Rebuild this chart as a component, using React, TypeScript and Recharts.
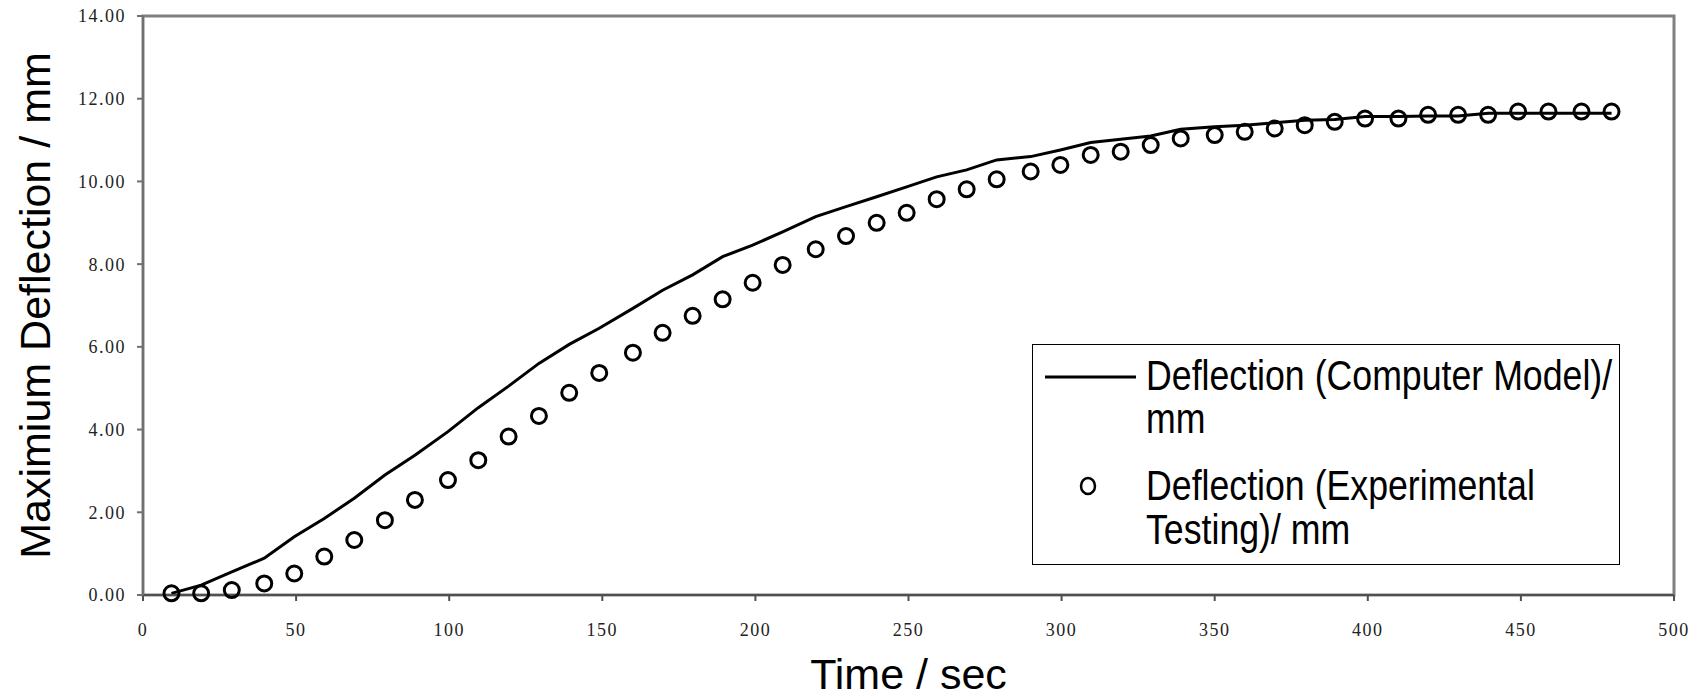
import {
  ComposedChart, Line, Scatter, XAxis, YAxis, ReferenceArea,
} from 'recharts';

// sample times (s)
const TIMES = [
  9.3, 19, 29, 39.6, 49.4, 59.2, 69, 79, 88.8, 99.6,
  109.5, 119.4, 129.3, 139.2, 149, 160, 169.7, 179.5, 189.3, 199.1,
  208.9, 219.7, 229.6, 239.6, 249.4, 259.2, 269, 278.8, 289.9, 299.6,
  309.5, 319.3, 329.1, 338.9, 350, 359.8, 369.6, 379.4, 389.2, 399.1,
  410, 419.7, 429.5, 439.3, 449.1, 459, 469.8, 479.6,
];

// Deflection (Computer Model) / mm
const MODEL = [
  0.04, 0.24, 0.56, 0.89, 1.41, 1.85, 2.34, 2.90, 3.38, 3.95,
  4.53, 5.05, 5.60, 6.06, 6.45, 6.93, 7.37, 7.74, 8.18, 8.46,
  8.78, 9.15, 9.39, 9.63, 9.87, 10.11, 10.28, 10.52, 10.60, 10.76,
  10.94, 11.02, 11.10, 11.26, 11.32, 11.36, 11.42, 11.48, 11.50, 11.57,
  11.57, 11.58, 11.58, 11.65, 11.65, 11.65, 11.65, 11.65,
];

// Deflection (Experimental Testing) / mm
const EXPERIMENT = [
  0.04, 0.04, 0.12, 0.28, 0.52, 0.93, 1.33, 1.81, 2.30, 2.78,
  3.26, 3.83, 4.33, 4.89, 5.37, 5.86, 6.34, 6.75, 7.15, 7.55,
  7.98, 8.36, 8.68, 9.00, 9.24, 9.57, 9.81, 10.05, 10.24, 10.40,
  10.64, 10.72, 10.88, 11.04, 11.12, 11.20, 11.28, 11.36, 11.44, 11.52,
  11.52, 11.61, 11.61, 11.61, 11.69, 11.69, 11.69, 11.69,
];

const X_TICKS = [0, 50, 100, 150, 200, 250, 300, 350, 400, 450, 500];
const Y_TICKS = [0, 2, 4, 6, 8, 10, 12, 14];

const LEGEND_LINES = [
  ['Deflection (Computer Model)/', 'mm'],
  ['Deflection (Experimental', 'Testing)/ mm'],
];

const data = TIMES.map((t, i) => ({ time: t, model: MODEL[i], exp: EXPERIMENT[i] }));

const SANS = '"Liberation Sans", Arial, sans-serif';
const SERIF = '"Liberation Serif", "Times New Roman", serif';

function OpenCircle(props: { cx?: number; cy?: number }) {
  const { cx = 0, cy = 0 } = props;
  return <circle cx={cx} cy={cy} r={7.5} fill="none" stroke="#000" strokeWidth={3} />;
}

// boxed legend, sits over the plot like in the source
function BoxLegend() {
  return (
    <svg width={588} height={221}
      style={{ position: 'absolute', left: 1032, top: 344, display: 'block' }}>
      <rect x={0.5} y={0.5} width={587} height={220} fill="#fff" stroke="#000" strokeWidth={1} />
      <line x1={13} y1={33} x2={104} y2={33} stroke="#000" strokeWidth={3} />
      <ellipse cx={56} cy={142} rx={7} ry={8} fill="none" stroke="#000" strokeWidth={2.5} />
      {/* text in the source is a narrow face, squeeze Arial a bit */}
      <g transform="translate(114,0) scale(0.85,1)" fontFamily={SANS} fontSize={42} fill="#000">
        <text x={0} y={46}>{LEGEND_LINES[0][0]}</text>
        <text x={0} y={89}>{LEGEND_LINES[0][1]}</text>
        <text x={0} y={156}>{LEGEND_LINES[1][0]}</text>
        <text x={0} y={200}>{LEGEND_LINES[1][1]}</text>
      </g>
    </svg>
  );
}

function YTitle(props: { viewBox?: { x: number; y: number; width: number; height: number } }) {
  const vb = props.viewBox ?? { x: 0, y: 0, width: 0, height: 0 };
  const cy = vb.y + vb.height / 2;
  return (
    <text x={50} y={cy} transform={`rotate(-90, 50, ${cy})`} textAnchor="middle"
      fontFamily={SANS} fontSize={43} fill="#000">
      Maximium Deflection / mm
    </text>
  );
}

function XTitle(props: { viewBox?: { x: number; y: number; width: number; height: number } }) {
  const vb = props.viewBox ?? { x: 0, y: 0, width: 0, height: 0 };
  return (
    <text x={vb.x + vb.width / 2} y={689} textAnchor="middle"
      fontFamily={SANS} fontSize={43} fill="#000">
      Time / sec
    </text>
  );
}

export default function App() {
  const tickStyle = { fontFamily: SERIF, fontSize: 18, fill: '#222', letterSpacing: 1.5 };
  return (
    <div style={{ position: 'absolute', left: 0, top: 0, width: 1697, height: 696, background: '#fff' }}>
      <ComposedChart width={1697} height={696} data={data}
        margin={{ top: 16, right: 23, bottom: 0, left: 0 }}>
        <ReferenceArea x1={0} x2={500} y1={0} y2={14} fill="none" stroke="#808080" strokeWidth={3} />
        <XAxis
          dataKey="time" type="number" domain={[0, 500]} ticks={X_TICKS}
          height={101} tickSize={6} tickMargin={22}
          stroke="#505050" strokeWidth={2}
          tick={tickStyle}
          label={<XTitle />}
        />
        <YAxis
          type="number" domain={[0, 14]} ticks={Y_TICKS} width={143}
          tickSize={6} tickMargin={11}
          stroke="#707070" strokeWidth={2}
          tickFormatter={(v: number) => v.toFixed(2)}
          tick={tickStyle}
          label={<YTitle />}
        />
        <Line dataKey="model" name="Deflection (Computer Model)/ mm" type="linear"
          stroke="#000" strokeWidth={3} dot={false} isAnimationActive={false} />
        <Scatter dataKey="exp" name="Deflection (Experimental Testing)/ mm"
          shape={<OpenCircle />} isAnimationActive={false} />
      </ComposedChart>
      <BoxLegend />
    </div>
  );
}
